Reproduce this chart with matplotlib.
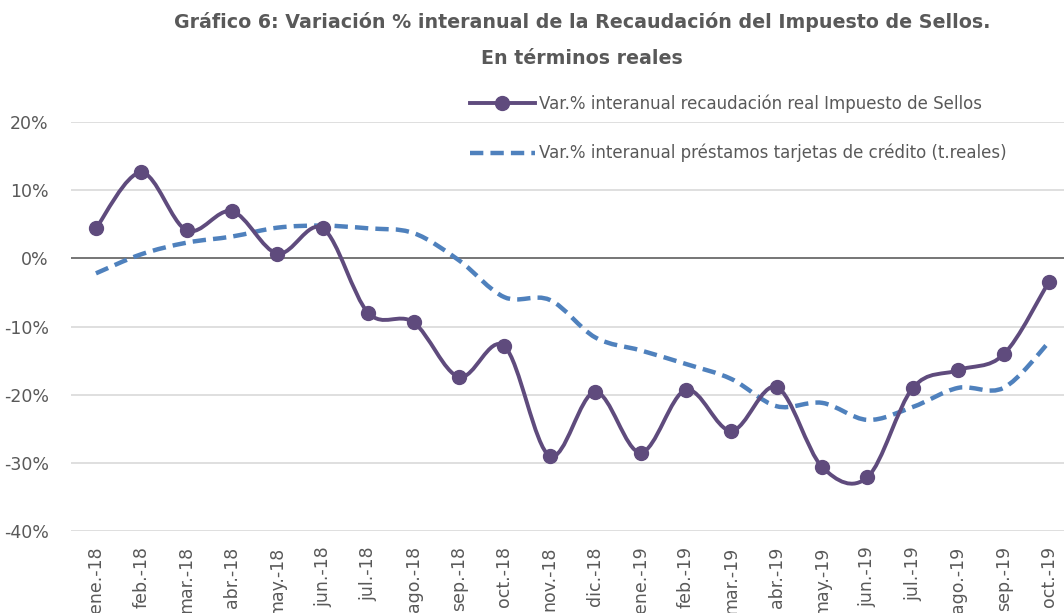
#!/usr/bin/python3

import numpy as np
import matplotlib
matplotlib.use("Agg")
import matplotlib.pyplot as plt
from matplotlib.path import Path
from matplotlib.patches import PathPatch
from matplotlib.lines import Line2D
from matplotlib.ticker import FuncFormatter

months = ["ene.-18", "feb.-18", "mar.-18", "abr.-18", "may.-18", "jun.-18",
          "jul.-18", "ago.-18", "sep.-18", "oct.-18", "nov.-18", "dic.-18",
          "ene.-19", "feb.-19", "mar.-19", "abr.-19", "may.-19", "jun.-19",
          "jul.-19", "ago.-19", "sep.-19", "oct.-19"]

# variacion % interanual recaudacion real Impuesto de Sellos
sellos = [4.4, 12.6, 4.1, 6.9, 0.7, 4.4, -8.0, -9.4, -17.4, -12.9, -29.0,
          -19.6, -28.5, -19.3, -25.3, -18.9, -30.6, -32.1, -19.0, -16.4,
          -14.1, -3.4]

# variacion % interanual prestamos tarjetas de credito (t. reales)
tarjetas = [-2.2, 0.6, 2.3, 3.2, 4.5, 4.8, 4.4, 3.7, -0.3, -5.7, -6.1,
            -11.6, -13.5, -15.5, -17.7, -21.7, -21.2, -23.7, -21.8, -19.0,
            -19.0, -12.3]

label_sellos = "Var.% interanual recaudación real Impuesto de Sellos"
label_tarjetas = "Var.% interanual préstamos tarjetas de crédito (t.reales)"

purple = "#5f4b7d"
blue = "#4f81bd"
grey_txt = "#595959"


def smooth_path(x, y):
    # bezier path like excel "smoothed line"
    pts = np.column_stack([x, y]).astype(float)
    n = len(pts)
    verts = [pts[0]]
    codes = [Path.MOVETO]
    for i in range(n - 1):
        p0 = pts[i - 1] if i > 0 else pts[i]
        p1 = pts[i]
        p2 = pts[i + 1]
        p3 = pts[i + 2] if i + 2 < n else pts[i + 1]
        c1 = p1 + (p2 - p0) / 6.0
        c2 = p2 - (p3 - p1) / 6.0
        verts += [c1, c2, p2]
        codes += [Path.CURVE4] * 3
    return Path(verts, codes)


x = np.arange(len(months))

fig = plt.figure(figsize=(10.64, 6.13), dpi=100)
ax = fig.add_axes([71 / 1064, 1 - 531 / 613, (1064 - 71) / 1064, (531 - 122) / 613])

ax.set_xlim(-0.55, 21.33)
ax.set_ylim(-40, 20)
ax.set_yticks([-40, -30, -20, -10, 0, 10, 20])
ax.yaxis.set_major_formatter(FuncFormatter(lambda v, p: "%d%%" % v))
ax.grid(axis="y", color="#d9d9d9", linewidth=1.2)
ax.set_axisbelow(True)
ax.axhline(0, color="#6e6e6e", linewidth=1.3, zorder=1)
for s in ax.spines.values():
    s.set_visible(False)
ax.tick_params(axis="both", length=0, colors=grey_txt)
ax.tick_params(axis="y", labelsize=12.5, pad=16)
ax.set_xticks(x)
ax.set_xticklabels(months, rotation=90, fontsize=12.5)
ax.tick_params(axis="x", pad=11)

ax.add_patch(PathPatch(smooth_path(x, tarjetas), facecolor="none", edgecolor=blue,
                       linewidth=3.2, linestyle=(0, (3, 1.6)), zorder=2))
ax.add_patch(PathPatch(smooth_path(x, sellos), facecolor="none", edgecolor=purple,
                       linewidth=2.8, zorder=3))
ax.plot(x, sellos, "o", color=purple, markersize=10, zorder=4)

h1 = Line2D([], [], color=purple, linewidth=2.8, marker="o", markersize=10)
h2 = Line2D([], [], color=blue, linewidth=3.2, linestyle=(0, (3, 1.6)))
leg = fig.legend([h1, h2], [label_sellos, label_tarjetas], loc="upper left",
                 bbox_to_anchor=(463 / 1064, 1 - 88 / 613), frameon=False,
                 fontsize=12, handlelength=3.9, handletextpad=0.25,
                 labelspacing=1.85, borderaxespad=0)
for t in leg.get_texts():
    t.set_color(grey_txt)

fig.text(0.547, 1 - 22 / 613, "Gráfico 6: Variación % interanual de la Recaudación del Impuesto de Sellos.",
         ha="center", va="center", fontsize=13.7, fontweight="bold", color=grey_txt)
fig.text(0.547, 1 - 58 / 613, "En términos reales",
         ha="center", va="center", fontsize=13.7, fontweight="bold", color=grey_txt)

plt.savefig("out.png", dpi=100)
plt.close(fig)
